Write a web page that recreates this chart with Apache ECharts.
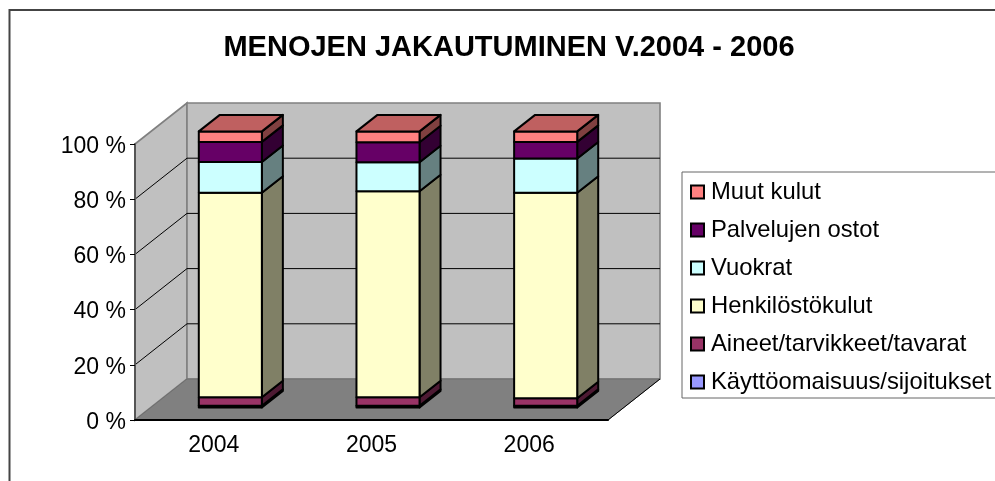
<!DOCTYPE html>
<html>
<head>
<meta charset="utf-8">
<style>
  html, body { margin: 0; padding: 0; background: #fff; overflow: hidden; }
  #chart { width: 995px; height: 481px; }
</style>
<script src="https://cdn.jsdelivr.net/npm/echarts@6/dist/echarts.min.js"></script>
</head>
<body>
<div id="chart"></div>
<script>
const years = ['2004', '2005', '2006']
const ticks = [20, 40, 60, 80, 100]

// stack order, bottom to top (percent of the year)
const names = ['Käyttöomaisuus/sijoitukset', 'Aineet/tarvikkeet/tavarat', 'Henkilöstökulut', 'Vuokrat', 'Palvelujen ostot', 'Muut kulut']
const kaytto = [0.6, 0.6, 0.6]
const aineet = [3.1, 3.1, 2.7]
const henkilosto = [74.1, 74.6, 74.5]
const vuokrat = [11.1, 10.5, 12.4]
const palvelut = [7.3, 7.3, 6.0]
const muut = [3.8, 3.9, 3.8]
const values = [kaytto, aineet, henkilosto, vuokrat, palvelut, muut]
const colors = ['#9999FF', '#993366', '#FFFFCC', '#CCFFFF', '#660066', '#FF8080']
const sideColors = ['#4d4d80', '#4d1a33', '#808066', '#668080', '#330033', '#804040']
const topColor = '#BF6060'

// fake 3d: how far the back wall sits from the front of the floor
const wallDx = 52
const wallDy = 41
const barFrontDx = 16.5
const barFrontDy = 12.6
const barDx = 21
const barDy = 16.5
const barRatio = 0.4

const lineStyle = { stroke: '#000', lineWidth: 2, lineJoin: 'round' }

const renderWalls = (params, api) => {
  const { x, y, width, height } = params.coordSys
  const b = y + height
  const r = x + width
  const children = [
    { type: 'polygon', shape: { points: [[x, y], [x + wallDx, y - wallDy], [x + wallDx, b - wallDy], [x, b]] }, style: { fill: '#C0C0C0', stroke: '#808080', lineWidth: 1.6 } },
    { type: 'polygon', shape: { points: [[x + wallDx, y - wallDy], [r + wallDx, y - wallDy], [r + wallDx, b - wallDy], [x + wallDx, b - wallDy]] }, style: { fill: '#C0C0C0', stroke: '#808080', lineWidth: 1.6 } },
    { type: 'polygon', shape: { points: [[x, b], [x + wallDx, b - wallDy], [r + wallDx, b - wallDy], [r, b]] }, style: { fill: '#808080', stroke: '#6e6e6e', lineWidth: 1 } },
    { type: 'line', shape: { x1: r, y1: b, x2: r + wallDx, y2: b - wallDy }, style: { stroke: '#000', lineWidth: 1 } }
  ]
  ticks.slice(0, -1).forEach((t) => {
    const py = api.coord([0, t])[1]
    children.push({
      type: 'polyline',
      shape: { points: [[x, py], [x + wallDx, py - wallDy], [r + wallDx, py - wallDy]] },
      style: { fill: null, stroke: '#000', lineWidth: 1 }
    })
  })
  return { type: 'group', children }
}

const makeRender = (s) => (params, api) => {
  const mid = api.coord([api.value(0), 0])[0]
  const w = api.size([1, 0])[0] * barRatio
  const x0 = mid - w / 2 + barFrontDx
  const x1 = x0 + w
  const yLow = api.coord([api.value(0), api.value(1)])[1] - barFrontDy
  const yHigh = api.coord([api.value(0), api.value(2)])[1] - barFrontDy
  const children = [
    { type: 'polygon', shape: { points: [[x1, yHigh], [x1 + barDx, yHigh - barDy], [x1 + barDx, yLow - barDy], [x1, yLow]] }, style: { fill: sideColors[s], ...lineStyle } },
    { type: 'polygon', shape: { points: [[x0, yHigh], [x1, yHigh], [x1, yLow], [x0, yLow]] }, style: { fill: colors[s], ...lineStyle } }
  ]
  if (s === names.length - 1) {
    children.push({ type: 'polygon', shape: { points: [[x0, yHigh], [x0 + barDx, yHigh - barDy], [x1 + barDx, yHigh - barDy], [x1, yHigh]] }, style: { fill: topColor, ...lineStyle } })
  }
  return { type: 'group', children }
}

const running = years.map(() => 0)
const barSeries = names.map((name, s) => ({
  name,
  type: 'custom',
  z: 3 + s,
  clip: false,
  itemStyle: { color: colors[s] },
  encode: { x: 0, y: [1, 2] },
  renderItem: makeRender(s),
  data: years.map((yr, i) => {
    const from = running[i]
    running[i] += values[s][i]
    return [i, from, running[i]]
  })
}))

const myChart = echarts.init(document.getElementById('chart'))
myChart.setOption({
  animation: false,
  textStyle: { fontFamily: 'Liberation Sans', color: '#000' },
  title: {
    text: 'MENOJEN JAKAUTUMINEN V.2004 - 2006',
    left: 504,
    top: 28,
    textAlign: 'center',
    textStyle: { fontSize: 29, fontWeight: 'bold', color: '#000', fontFamily: 'Liberation Sans' }
  },
  graphic: [
    { type: 'rect', z: -10, silent: true, shape: { x: 9.5, y: 10, width: 2000, height: 2000 }, style: { fill: null, stroke: '#444', lineWidth: 2 } }
  ],
  legend: {
    orient: 'vertical',
    left: 682,
    top: 172,
    padding: [8, 40, 4, 8],
    data: names.slice().reverse(),
    icon: 'rect',
    itemWidth: 13,
    itemHeight: 13,
    itemGap: 14,
    itemStyle: { borderColor: '#000', borderWidth: 2 },
    backgroundColor: '#fff',
    borderColor: '#666',
    borderWidth: 1,
    textStyle: { fontSize: 23.8, color: '#000', fontFamily: 'Liberation Sans', padding: [0, 0, 4, 2] }
  },
  grid: { left: 135, top: 144, width: 473, height: 276 },
  xAxis: {
    type: 'category',
    data: years,
    z: 10,
    axisLine: { lineStyle: { color: '#000', width: 2 } },
    axisTick: { length: 6, lineStyle: { color: '#000', width: 1 } },
    axisLabel: { fontSize: 23, color: '#000', margin: 14, fontFamily: 'Liberation Sans' }
  },
  yAxis: {
    type: 'value',
    min: 0,
    max: 100,
    interval: 20,
    z: 10,
    splitLine: { show: false },
    axisLine: { show: true, lineStyle: { color: '#555', width: 2 } },
    axisTick: { show: true, length: 5, lineStyle: { color: '#000', width: 1 } },
    axisLabel: {
      formatter: '{v|{value} %}',
      margin: 9,
      rich: { v: { fontSize: 23, color: '#000', padding: [5, 0, 0, 0], fontFamily: 'Liberation Sans' } }
    }
  },
  series: [
    { type: 'custom', z: 1, clip: false, silent: true, renderItem: renderWalls, data: [[0, 0]] },
    ...barSeries
  ]
})
</script>
</body>
</html>
